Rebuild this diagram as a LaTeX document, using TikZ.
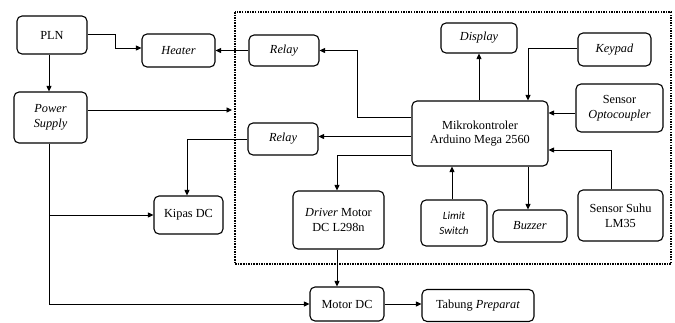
\documentclass[tikz,border=0pt]{standalone}
\usepackage{fontspec}
\setmainfont{Liberation Serif}
\newfontfamily\serfont{Liberation Serif}
\newfontfamily\calfont{Carlito}
\usetikzlibrary{arrows.meta,calc}
\begin{document}
\begin{tikzpicture}[x=1pt,y=-1pt,
  blk/.style={draw,line width=1.1pt,rounded corners=5pt,align=center,inner sep=1pt,
    font=\serfont\fontsize{12.3}{14.8}\selectfont},
  arr/.style={line width=0.9pt,-{Triangle[length=5.5pt,width=5pt]}}]
\useasboundingbox (0,0) rectangle (675,322);
% dotted frame
\draw[line width=2.3pt,dash pattern=on 1.5pt off 1.1pt] (235,12) rectangle (671,264);
% nodes
\node[blk,minimum width=70pt,minimum height=38pt] (pln) at (52,35) {PLN};
\node[blk,minimum width=73pt,minimum height=33pt] (heater) at (178.5,50.5) {\textit{Heater}};
\node[blk,minimum width=73pt,minimum height=51pt] (ps) at (50.5,117.5) {\textit{Power}\\\textit{Supply}};
\node[blk,minimum width=70pt,minimum height=31pt] (relay1) at (284,50.5) {\textit{Relay}};
\node[blk,minimum width=70pt,minimum height=32pt] (relay2) at (283,139) {\textit{Relay}};
\node[blk,minimum width=69pt,minimum height=38pt] (kipas) at (188.5,215) {Kipas DC};
\node[blk,minimum width=136pt,minimum height=65pt] (mikro) at (480,133.5) {Mikrokontroler\\Arduino Mega 2560};
\node[blk,minimum width=76pt,minimum height=30pt] (display) at (479,38) {\textit{Display}};
\node[blk,minimum width=73pt,minimum height=33pt] (keypad) at (614.5,49.5) {\textit{Keypad}};
\node[blk,minimum width=87pt,minimum height=48pt] (opto) at (619.5,108) {Sensor\\\textit{Optocoupler}};
\node[blk,minimum width=85pt,minimum height=51pt] (suhu) at (620.5,215.5) {Sensor Suhu\\LM35};
\node[blk,minimum width=66pt,minimum height=46pt,font=\calfont\itshape\fontsize{11}{15}\selectfont] (limit) at (454,223) {Limit\\Switch};
\node[blk,minimum width=74pt,minimum height=32pt] (buzzer) at (530,226) {\textit{Buzzer}};
\node[blk,minimum width=91pt,minimum height=58pt] (driver) at (338.5,220) {\textit{Driver} Motor\\DC L298n};
\node[blk,minimum width=74pt,minimum height=34pt] (motor) at (347,304) {Motor DC};
\node[blk,minimum width=112pt,minimum height=32pt] (tabung) at (478,305.5) {Tabung \textit{Preparat}};
% helper coordinates
\coordinate (psin) at (232,110);
\coordinate (plnA) at ($(pln.east)+(0,-1)$);
\coordinate (heaterA) at ($(heater.west)+(0,-2.5)$);
\coordinate (plnB) at ($(pln.south)+(-3,0)$);
\coordinate (mkA) at ($(mikro.west)+(0,-16.5)$);
\coordinate (mkB) at ($(mikro.west)+(0,3)$);
\coordinate (mkC) at ($(mikro.west)+(0,21.5)$);
\coordinate (drvN) at ($(driver.north)+(-1.5,0)$);
\coordinate (drvS) at ($(driver.south)+(-1.5,0)$);
\coordinate (kipN) at ($(kipas.north)+(-1.5,0)$);
\coordinate (psS) at ($(ps.south)+(-1.5,0)$);
\coordinate (mkN) at ($(mikro.north)+(48,0)$);
\coordinate (mkS) at ($(mikro.south)+(48,0)$);
\coordinate (keyW) at ($(keypad.west)+(0,-1.5)$);
\coordinate (optW) at ($(opto.west)+(0,5)$);
\coordinate (suhN) at ($(suhu.north)+(-9.5,0)$);
\coordinate (mkE) at ($(mikro.east)+(0,16.5)$);
\coordinate (limN) at ($(limit.north)+(-2,0)$);
% connectors
\draw[arr] (plnA) -- ++(28,0) |- (heaterA);
\draw[arr] (plnB) -- (plnB |- ps.north);
\draw[arr] (ps.east |- psin) -- (psin);
\draw[arr] (relay1.west) -- (relay1.west -| heater.east);
\draw[arr] (mkA) -- ++(-54,0) |- (relay1.east);
\draw[arr] (mkB) -- (mkB -| relay2.east);
\draw[arr] (mkC) -| (drvN);
\draw[arr] (relay2.west) -| (kipN);
\draw[arr] (psS) |- (motor.west);
\draw[arr] (psS |- kipas.west) -- (kipas.west);
\draw[arr] (drvS) -- (drvS |- motor.north);
\draw[arr] (motor.east) -- (motor.east -| tabung.west);
\draw[arr] (display.south |- mikro.north) -- (display.south);
\draw[arr] (keyW) -| (mkN);
\draw[arr] (optW) -- (optW -| mikro.east);
\draw[arr] (suhN) |- (mkE);
\draw[arr] (limN) -- (limN |- mikro.south);
\draw[arr] (mkS) -- (mkS |- buzzer.north);
\end{tikzpicture}
\end{document}
